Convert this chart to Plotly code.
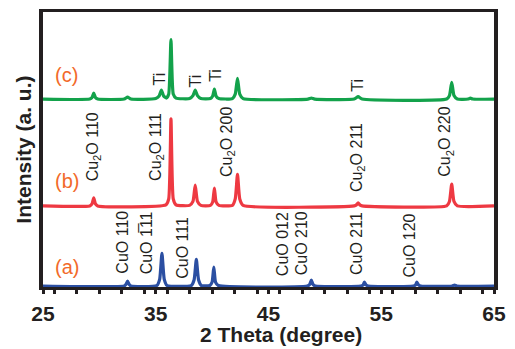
import plotly.graph_objects as go

# ---------------- data (2theta in degrees, intensity in arbitrary units) ----------------
x_a = [25, 32.2, 32.35, 32.5, 32.65, 32.8, 35.1, 35.35, 35.55, 35.75, 36.0,
       38.15, 38.4, 38.6, 38.8, 39.05, 39.8, 40.0, 40.15, 40.3, 40.55,
       48.45, 48.65, 48.8, 48.95, 49.15, 53.2, 53.4, 53.5, 53.65, 53.85,
       57.85, 58.05, 58.15, 58.3, 58.5, 61.3, 61.5, 61.7, 65]
y_a = [0, 0, 1.5, 5, 1.5, 0, 0.5, 7, 33, 7, 0.5,
       0.5, 6, 27, 6, 0.5, 0.5, 4, 19, 4, 0.5,
       0, 1.5, 6, 1.5, 0, 0, 1.2, 4, 1.2, 0,
       0, 1.2, 4, 1.2, 0, 0, 1, 0, 0]

x_b = [25, 29.15, 29.35, 29.5, 29.65, 29.85, 35.9, 36.15, 36.35, 36.55, 36.8,
       38.0, 38.3, 38.5, 38.7, 39.0, 39.85, 40.05, 40.2, 40.35, 40.6,
       41.8, 42.05, 42.25, 42.45, 42.75, 52.6, 52.8, 52.95, 53.1, 53.3,
       60.8, 61.05, 61.25, 61.45, 61.75, 65]
y_b = [0, 0, 2, 8, 2, 0, 1, 7, 88, 7, 1,
       0.5, 4.5, 21, 4.5, 0.5, 0.5, 4, 18, 4, 0.5,
       0.5, 7, 32, 7, 0.5, 0, 1, 3, 1, 0,
       0, 4.5, 22, 4.5, 0, 0]

x_c = [25, 29.15, 29.35, 29.5, 29.65, 29.85, 32.2, 32.5, 32.8,
       35.0, 35.3, 35.5, 35.7, 35.95, 36.15, 36.35, 36.55, 36.8,
       38.0, 38.3, 38.5, 38.7, 39.0, 39.85, 40.05, 40.2, 40.35, 40.6,
       41.8, 42.05, 42.25, 42.45, 42.75, 48.5, 48.8, 49.1, 52.6, 52.95, 53.3,
       60.8, 61.05, 61.25, 61.45, 61.75, 62.7, 62.9, 63.1, 65]
y_c = [0, 0, 1.5, 6, 1.5, 0, 0, 2, 0,
       0.5, 3, 9, 3, 1, 5, 60, 5, 1,
       0.5, 3.5, 9, 3.5, 0.5, 0.5, 3, 10, 3, 0.5,
       0.5, 5, 21, 5, 0.5, 0, 1, 0, 0, 2.5, 0,
       0, 3.5, 17, 3.5, 0, 0, 1, 0, 0]

series_names = ["(a)", "(b)", "(c)"]
offsets = [0, 81, 189]

x_ticks = [25, 35, 45, 55, 65]

cu2o_labels = ["Cu<sub>2</sub>O 110", "Cu<sub>2</sub>O 111", "Cu<sub>2</sub>O 200",
               "Cu<sub>2</sub>O 211", "Cu<sub>2</sub>O 220"]
cu2o_pos = [29.5, 35.0, 41.3, 52.9, 60.7]
cu2o_base = [104, 104, 108, 93, 108]

cuo_labels = ["CuO 110", "CuO 1\u030511", "CuO 111", "CuO 012", "CuO 210", "CuO 211", "CuO 120"]
cuo_pos = [32.1, 34.2, 37.3, 46.2, 47.9, 52.8, 57.5]
cuo_base = [10, 10, 5, 8, 9, 9, 7]

ti_pos = [35.35, 38.5, 40.3, 52.9]
ti_center = [209.5, 207, 213, 203]

colors = ["#2b4fa2", "#ee3942", "#13a24b"]
label_color = "#f26a2a"
ink = "#231f20"
FONT = "Liberation Sans, Arial, sans-serif"
LBL = 16

fig = go.Figure()
for xs, ys, off, col, nm in zip([x_a, x_b, x_c], [y_a, y_b, y_c], offsets, colors, series_names):
    fig.add_trace(go.Scatter(x=xs, y=[v + off for v in ys], mode="lines",
                             line=dict(color=col, width=3.2, shape="spline", smoothing=0.5),
                             name=nm, showlegend=False, hoverinfo="skip"))

ann = []
for t, xp, yb in zip(cu2o_labels, cu2o_pos, cu2o_base):
    ann.append(dict(x=xp, y=yb, text=t, textangle=-90,
                    xanchor="center", yanchor="bottom", showarrow=False,
                    font=dict(family=FONT, size=LBL, color=ink)))
for t, xp, yb in zip(cuo_labels, cuo_pos, cuo_base):
    ann.append(dict(x=xp, y=yb, text=t, textangle=-90, xanchor="center", yanchor="bottom",
                    showarrow=False, font=dict(family=FONT, size=LBL, color=ink)))
for xp, yc in zip(ti_pos, ti_center):
    ann.append(dict(x=xp, y=yc, text="Ti", textangle=-90, xanchor="center", yanchor="middle",
                    showarrow=False, font=dict(family=FONT, size=LBL, color=ink)))
for nm, yc in zip(series_names, [19, 106, 213]):
    ann.append(dict(x=27.1, y=yc, text=nm, xanchor="center", yanchor="middle", showarrow=False,
                    font=dict(family=FONT, size=20, color=label_color)))
ann.append(dict(xref="paper", yref="paper", x=-0.044, y=0.5, text="Intensity (a. u.)",
                textangle=-90, xanchor="center", yanchor="middle", showarrow=False,
                font=dict(family=FONT, size=21, color=ink, weight="bold")))
ann.append(dict(xref="paper", yref="paper", x=0.5286, y=-0.172, text="2 Theta (degree)",
                xanchor="center", yanchor="middle", showarrow=False,
                font=dict(family=FONT, size=21, color=ink, weight="bold")))

fig.update_layout(
    width=515, height=349,
    margin=dict(l=43, r=18, t=9, b=62),
    paper_bgcolor="white", plot_bgcolor="white",
    annotations=ann,
    xaxis=dict(range=[25, 65], tickvals=x_ticks, ticks="outside", ticklen=4, tickwidth=2.5,
               tickcolor=ink, showline=True, linecolor=ink, linewidth=3, mirror=True,
               showgrid=False, zeroline=False, layer="below traces",
               tickfont=dict(family=FONT, size=21, color=ink, weight="bold"),
               ticklabelstandoff=2,
               minor=dict(dtick=2, ticks="outside", ticklen=4, tickwidth=2.5, tickcolor=ink)),
    yaxis=dict(range=[-1, 277], showticklabels=False, ticks="", showline=True, linecolor=ink,
               linewidth=3.5, mirror=True, showgrid=False, zeroline=False),
)

fig.write_html("out.html", config={"displayModeBar": False},
               post_script="document.body.style.margin='0';document.body.style.padding='0';")
